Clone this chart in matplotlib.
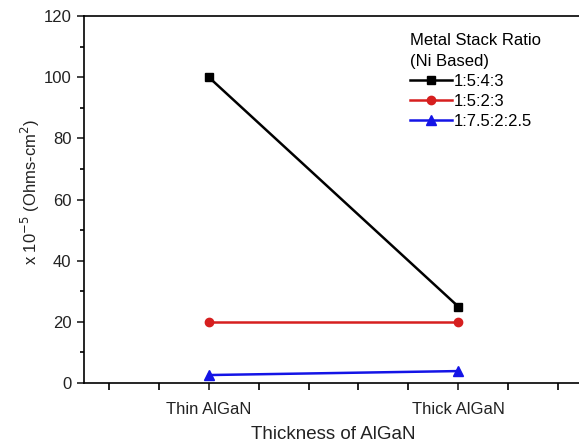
import matplotlib
matplotlib.use("Agg")
import matplotlib.pyplot as plt
from matplotlib.ticker import MultipleLocator

plt.rcParams['font.family'] = ['Liberation Sans', 'DejaVu Sans']

categories = ["Thin AlGaN", "Thick AlGaN"]
x_pos = [1, 2]
ratio_a = [100, 25]    # 1:5:4:3
ratio_b = [20, 20]     # 1:5:2:3
ratio_c = [2.6, 3.9]   # 1:7.5:2:2.5

fig = plt.figure(figsize=(5.79, 4.46), dpi=100)
ax = fig.add_axes([84/579, 1 - 383/446, 499/579, 367/446])

ax.plot(x_pos, ratio_a, color='black', marker='s', markersize=5.5, lw=1.8, label='1:5:4:3')
ax.plot(x_pos, ratio_b, color='#d61f1f', marker='o', markersize=6, lw=1.8, label='1:5:2:3')
ax.plot(x_pos, ratio_c, color='#1414e6', marker='^', markersize=6.5, lw=1.8, label='1:7.5:2:2.5')

ax.set_xlim(0.5, 2.5)
ax.set_ylim(0, 120)
ax.set_xticks(x_pos)
ax.set_xticklabels(categories)
ax.xaxis.set_minor_locator(MultipleLocator(0.2))
ax.yaxis.set_major_locator(MultipleLocator(20))
ax.yaxis.set_minor_locator(MultipleLocator(10))
ax.tick_params(which='major', direction='out', length=5, width=1.2, labelsize=12,
               colors='#222222', pad=4)
ax.tick_params(axis='x', which='major', pad=9)
ax.tick_params(which='minor', direction='out', length=3, width=1.2)
ax.tick_params(axis='x', which='minor', length=5)
for s in ax.spines.values():
    s.set_linewidth(1.2)

ax.set_xlabel('Thickness of AlGaN', fontsize=13.5, labelpad=6, color='#222222')
ax.set_ylabel('x 10$^{-5}$ (Ohms-cm$^{2}$)', fontsize=12, labelpad=12, color='#222222')
ax.yaxis.set_label_coords(-0.085, 0.52)

leg = ax.legend(title='Metal Stack Ratio\n(Ni Based)', frameon=False, fontsize=12,
                title_fontsize=12, loc='upper left', bbox_to_anchor=(0.63, 0.985),
                handlelength=2.5, handletextpad=0.1, labelspacing=0.3, borderpad=0.2)
leg._legend_box.align = 'left'
leg.get_title().set_linespacing(1.5)

fig.savefig('out.png', dpi=100)
